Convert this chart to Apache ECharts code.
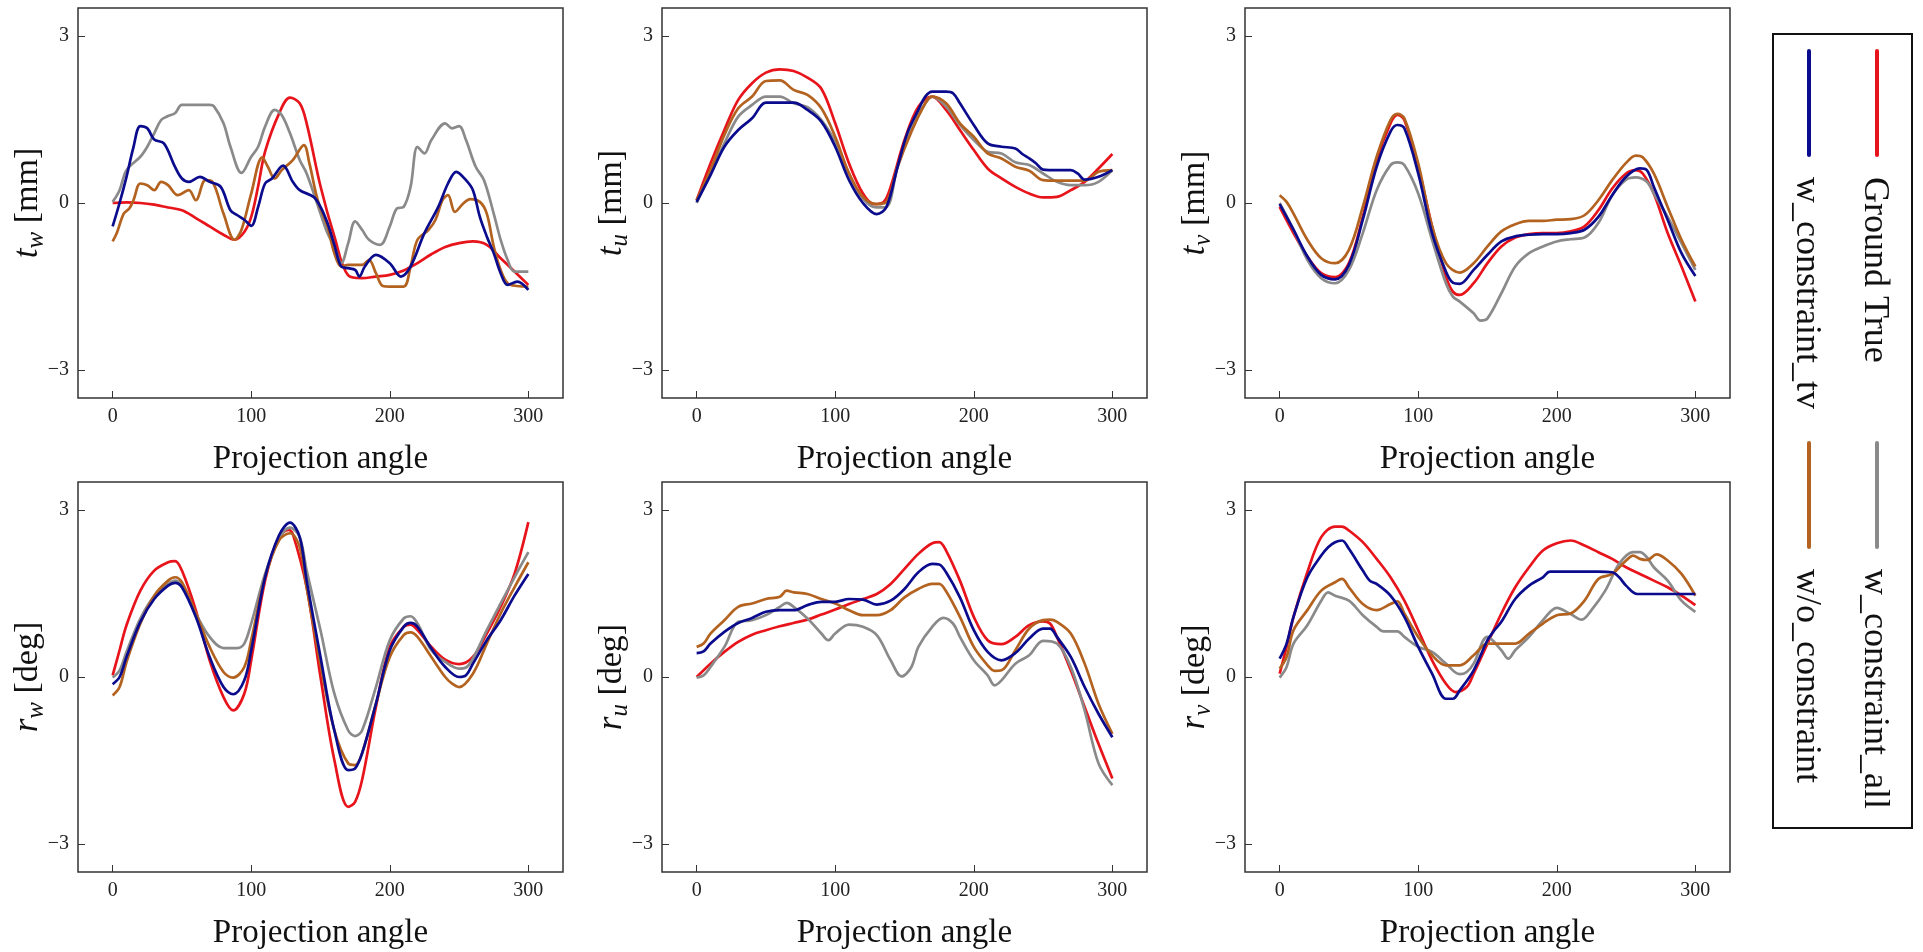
<!DOCTYPE html>
<html>
<head>
<meta charset="utf-8">
<script src="https://cdn.jsdelivr.net/npm/echarts@6/dist/echarts.min.js"></script>
<style>
html, body { margin: 0; padding: 0; background: #fff; }
#main { width: 1923px; height: 952px; }
</style>
</head>
<body>
<div id="main"></div>
<script type="text/javascript">
// tick labels
var xTicks = [0, 100, 200, 300];
var yTicks = [-3, 0, 3];

// legend names
var names = ['Ground True', 'w_constraint_tv', 'w_constraint_all', 'w/o_constraint'];

// panel t_w : [angle, value]
var tw_gt = [[0,0],[10,0.01],[20,0],[30,-0.03],[40,-0.08],[50,-0.13],[60,-0.27],[70,-0.42],[80,-0.57],[88,-0.66],[95,-0.52],[100,-0.25],[105,0.3],[110,0.92],[120,1.6],[128,1.89],[135,1.79],[140,1.43],[150,0.3],[160,-0.6],[170,-1.3],[180,-1.35],[190,-1.32],[200,-1.29],[210,-1.21],[220,-1.08],[230,-0.92],[240,-0.79],[250,-0.72],[260,-0.69],[270,-0.75],[280,-0.99],[290,-1.23],[300,-1.47]];
var tw_tv = [[0,-0.42],[5,0],[10,0.47],[15,1.0],[20,1.38],[25,1.34],[30,1.14],[37,1.07],[45,0.65],[50,0.44],[55,0.38],[63,0.47],[70,0.38],[78,0.29],[85,-0.13],[90,-0.22],[95,-0.3],[100,-0.41],[105,-0.07],[110,0.35],[115,0.44],[123,0.67],[130,0.38],[135,0.23],[145,0.11],[150,-0.07],[155,-0.36],[160,-0.75],[165,-1.14],[170,-1.17],[175,-1.2],[178,-1.32],[182,-1.14],[190,-0.93],[200,-1.08],[208,-1.32],[215,-1.14],[225,-0.54],[235,-0.07],[242,0.35],[248,0.56],[255,0.41],[260,0.23],[265,-0.25],[270,-0.6],[275,-0.9],[280,-1.26],[285,-1.47],[292,-1.41],[300,-1.56]];
var tw_all = [[0,0.02],[5,0.23],[10,0.59],[20,0.83],[25,1.01],[30,1.25],[35,1.49],[40,1.56],[45,1.61],[50,1.76],[60,1.76],[70,1.76],[73,1.74],[80,1.43],[85,1.01],[93,0.54],[100,0.83],[105,1.01],[110,1.37],[117,1.67],[122,1.58],[128,1.25],[135,0.77],[140,0.53],[150,-0.19],[155,-0.54],[160,-0.78],[165,-1.08],[170,-0.72],[175,-0.33],[180,-0.48],[185,-0.66],[193,-0.75],[200,-0.42],[205,-0.1],[210,-0.07],[215,0.29],[220,1.01],[225,0.89],[230,1.13],[240,1.43],[245,1.34],[250,1.38],[255,1.13],[262,0.65],[268,0.41],[275,-0.19],[280,-0.66],[285,-1.02],[290,-1.23],[300,-1.23]];
var tw_wo = [[0,-0.69],[3,-0.54],[8,-0.19],[12,-0.1],[15,0.05],[20,0.35],[25,0.32],[30,0.23],[35,0.38],[40,0.32],[47,0.14],[55,0.23],[60,0.05],[67,0.41],[72,0.38],[80,-0.19],[88,-0.66],[93,-0.48],[100,0.17],[108,0.82],[112,0.65],[117,0.44],[122,0.59],[130,0.77],[138,1.04],[142,0.71],[148,0.05],[155,-0.42],[160,-0.9],[165,-1.14],[170,-1.11],[180,-1.11],[185,-1.02],[190,-1.26],[195,-1.49],[200,-1.5],[210,-1.5],[215,-1.14],[220,-0.66],[228,-0.48],[233,-0.3],[238,0.05],[242,0.14],[247,-0.16],[253,-0.01],[258,0.07],[265,0.02],[270,-0.19],[275,-0.78],[280,-1.2],[285,-1.44],[292,-1.49],[300,-1.5]];

// panel t_u
var tu_gt = [[0,0.05],[10,0.71],[20,1.31],[30,1.85],[40,2.15],[50,2.34],[60,2.4],[70,2.37],[80,2.25],[90,2.05],[100,1.43],[110,0.71],[120,0.17],[128,-0.02],[135,0.02],[140,0.29],[150,1.13],[160,1.73],[170,1.91],[180,1.67],[190,1.31],[200,0.95],[210,0.62],[220,0.44],[230,0.29],[240,0.17],[250,0.1],[260,0.11],[270,0.23],[280,0.38],[290,0.62],[300,0.88]];
var tu_tv = [[0,0.02],[10,0.5],[20,1.01],[30,1.31],[40,1.52],[50,1.8],[60,1.8],[70,1.8],[80,1.67],[90,1.46],[100,1.01],[110,0.41],[120,0],[130,-0.2],[137,-0.07],[145,0.65],[152,1.25],[160,1.67],[165,1.91],[170,2.0],[180,2.0],[185,1.97],[190,1.79],[200,1.4],[210,1.07],[220,1.01],[230,0.98],[235,0.88],[240,0.8],[245,0.71],[250,0.6],[260,0.59],[270,0.59],[275,0.53],[280,0.42],[290,0.47],[300,0.59]];
var tu_all = [[0,0],[10,0.53],[20,1.07],[30,1.55],[40,1.76],[50,1.91],[60,1.91],[70,1.79],[80,1.72],[90,1.49],[100,1.1],[110,0.53],[120,0.08],[130,-0.08],[137,-0.07],[145,0.65],[155,1.31],[165,1.79],[170,1.91],[180,1.73],[190,1.4],[200,1.13],[210,0.92],[220,0.89],[230,0.73],[240,0.68],[250,0.53],[260,0.38],[270,0.32],[280,0.32],[290,0.38],[300,0.59]];
var tu_wo = [[0,0.05],[10,0.59],[20,1.22],[30,1.7],[40,1.91],[50,2.19],[60,2.2],[70,2.03],[80,1.94],[90,1.7],[100,1.19],[110,0.53],[120,0.11],[130,-0.02],[137,0.02],[145,0.65],[155,1.28],[165,1.79],[170,1.91],[180,1.79],[190,1.43],[200,1.19],[210,0.89],[220,0.8],[230,0.65],[240,0.58],[250,0.41],[260,0.4],[270,0.4],[280,0.4],[290,0.56],[300,0.59]];

// panel t_v
var tv_gt = [[0,-0.07],[10,-0.54],[20,-0.96],[30,-1.26],[40,-1.33],[50,-1.08],[60,-0.25],[70,0.77],[80,1.43],[85,1.58],[90,1.49],[100,0.65],[110,-0.42],[120,-1.32],[125,-1.59],[130,-1.65],[140,-1.44],[150,-1.08],[160,-0.78],[170,-0.62],[180,-0.56],[190,-0.54],[200,-0.54],[210,-0.51],[220,-0.42],[230,-0.13],[240,0.26],[250,0.53],[257,0.59],[262,0.53],[270,0.17],[280,-0.54],[290,-1.14],[300,-1.77]];
var tv_tv = [[0,-0.02],[10,-0.48],[20,-0.96],[30,-1.29],[40,-1.37],[50,-1.11],[60,-0.3],[70,0.65],[80,1.28],[85,1.4],[90,1.34],[100,0.53],[110,-0.54],[120,-1.23],[125,-1.43],[130,-1.45],[140,-1.2],[150,-0.93],[160,-0.69],[170,-0.6],[180,-0.57],[190,-0.56],[200,-0.56],[210,-0.54],[220,-0.48],[230,-0.25],[240,0.14],[250,0.47],[260,0.62],[265,0.59],[270,0.29],[280,-0.3],[290,-0.9],[300,-1.31]];
var tv_all = [[0,0],[10,-0.48],[20,-1.02],[30,-1.35],[40,-1.44],[50,-1.2],[60,-0.54],[70,0.23],[80,0.68],[85,0.73],[90,0.68],[100,0.17],[110,-0.66],[120,-1.44],[125,-1.68],[130,-1.77],[140,-1.98],[145,-2.11],[150,-2.07],[160,-1.62],[170,-1.14],[180,-0.9],[190,-0.78],[200,-0.69],[210,-0.65],[220,-0.62],[230,-0.36],[240,0.14],[250,0.42],[257,0.46],[265,0.38],[270,0.17],[280,-0.25],[290,-0.72],[300,-1.2]];
var tv_wo = [[0,0.14],[5,0.02],[10,-0.19],[20,-0.66],[30,-0.99],[40,-1.08],[50,-0.84],[60,-0.07],[70,0.83],[80,1.49],[85,1.6],[90,1.52],[100,0.71],[110,-0.42],[120,-1.08],[130,-1.25],[140,-1.08],[150,-0.78],[160,-0.51],[170,-0.38],[180,-0.32],[190,-0.32],[200,-0.3],[210,-0.29],[220,-0.22],[230,0.05],[240,0.41],[250,0.72],[257,0.85],[262,0.82],[270,0.53],[280,-0.07],[290,-0.66],[300,-1.14]];

// panel r_w
var rw_gt = [[0,0.03],[5,0.48],[10,0.93],[20,1.55],[30,1.91],[40,2.06],[45,2.08],[50,1.91],[60,1.2],[70,0.3],[80,-0.36],[87,-0.6],[95,-0.3],[100,0.3],[110,1.73],[120,2.51],[127,2.64],[130,2.57],[140,1.61],[150,0],[160,-1.49],[170,-2.33],[175,-2.24],[180,-1.85],[190,-0.54],[200,0.54],[210,0.9],[215,0.94],[220,0.84],[230,0.54],[240,0.31],[250,0.23],[260,0.36],[270,0.78],[280,1.26],[290,1.85],[300,2.78]];
var rw_tv = [[0,-0.13],[5,0],[10,0.36],[20,0.99],[30,1.4],[40,1.64],[45,1.69],[50,1.61],[60,1.08],[70,0.36],[80,-0.18],[87,-0.31],[95,-0.06],[100,0.48],[110,1.79],[120,2.54],[128,2.77],[135,2.51],[140,1.73],[150,0.36],[160,-0.96],[170,-1.67],[175,-1.64],[180,-1.37],[190,-0.48],[200,0.48],[210,0.9],[215,0.97],[220,0.9],[230,0.51],[240,0.18],[250,0],[255,0.03],[260,0.24],[270,0.66],[280,1.02],[290,1.46],[300,1.85]];
var rw_all = [[0,-0.01],[5,0.12],[10,0.45],[20,1.05],[30,1.45],[40,1.67],[45,1.73],[50,1.64],[60,1.14],[70,0.72],[80,0.52],[90,0.52],[95,0.6],[100,0.96],[110,1.85],[120,2.48],[128,2.68],[135,2.51],[140,1.91],[150,0.84],[160,-0.3],[170,-0.96],[175,-1.06],[180,-0.96],[190,-0.18],[200,0.66],[210,1.05],[215,1.09],[220,0.96],[230,0.48],[240,0.27],[250,0.15],[255,0.17],[260,0.33],[270,0.84],[280,1.32],[290,1.79],[300,2.24]];
var rw_wo = [[0,-0.33],[5,-0.18],[10,0.27],[20,0.96],[30,1.46],[40,1.73],[45,1.79],[50,1.7],[60,1.14],[70,0.54],[80,0.09],[87,-0.01],[95,0.18],[100,0.66],[110,1.79],[120,2.45],[128,2.58],[135,2.33],[140,1.61],[150,0.24],[160,-0.96],[170,-1.55],[175,-1.58],[180,-1.37],[190,-0.48],[200,0.36],[210,0.75],[215,0.8],[220,0.72],[230,0.36],[240,0],[245,-0.12],[250,-0.18],[260,0.06],[270,0.6],[280,1.14],[290,1.61],[300,2.06]];

// panel r_u
var ru_gt = [[0,0],[10,0.24],[20,0.45],[30,0.63],[40,0.76],[50,0.84],[60,0.91],[70,0.97],[80,1.03],[90,1.12],[100,1.21],[110,1.31],[120,1.4],[130,1.49],[140,1.67],[150,1.94],[160,2.21],[170,2.4],[175,2.42],[180,2.27],[190,1.73],[200,1.08],[210,0.66],[220,0.59],[230,0.72],[240,0.93],[250,1.0],[255,0.96],[260,0.72],[270,0.12],[280,-0.54],[290,-1.2],[300,-1.82]];
var ru_tv = [[0,0.43],[5,0.46],[10,0.6],[20,0.81],[30,0.97],[40,1.06],[50,1.17],[60,1.2],[70,1.2],[80,1.29],[90,1.35],[100,1.35],[110,1.4],[120,1.39],[130,1.3],[140,1.37],[150,1.58],[160,1.88],[170,2.03],[175,2.02],[180,1.88],[190,1.43],[200,0.84],[210,0.45],[220,0.3],[230,0.43],[240,0.69],[250,0.87],[255,0.87],[260,0.72],[270,0.36],[280,-0.18],[290,-0.66],[300,-1.08]];
var ru_all = [[0,-0.01],[5,0.03],[10,0.18],[20,0.54],[30,0.99],[40,1.02],[50,1.11],[60,1.26],[65,1.33],[70,1.26],[80,1.05],[90,0.78],[95,0.66],[100,0.78],[110,0.94],[120,0.9],[130,0.75],[140,0.3],[148,0.01],[155,0.18],[160,0.54],[170,0.9],[178,1.06],[185,0.96],[190,0.72],[200,0.3],[210,0.03],[215,-0.15],[220,-0.06],[230,0.24],[240,0.39],[250,0.65],[260,0.6],[270,0.18],[280,-0.6],[290,-1.55],[300,-1.94]];
var ru_wo = [[0,0.54],[5,0.6],[10,0.78],[20,1.02],[30,1.26],[40,1.32],[50,1.4],[60,1.44],[65,1.55],[70,1.52],[80,1.49],[90,1.4],[100,1.32],[110,1.2],[120,1.11],[130,1.11],[140,1.2],[150,1.43],[160,1.58],[170,1.67],[175,1.67],[180,1.54],[190,1.08],[200,0.54],[210,0.21],[215,0.11],[220,0.12],[230,0.48],[240,0.87],[250,1.02],[255,1.03],[260,0.99],[270,0.78],[280,0.24],[290,-0.48],[300,-1.02]];

// panel r_v
var rv_gt = [[0,0.06],[5,0.54],[10,1.08],[20,1.88],[30,2.51],[40,2.7],[45,2.7],[50,2.63],[60,2.42],[70,2.12],[80,1.79],[90,1.37],[100,0.84],[110,0.3],[120,-0.12],[127,-0.27],[135,-0.18],[140,0.06],[150,0.6],[160,1.14],[170,1.61],[180,1.97],[190,2.27],[200,2.4],[210,2.45],[220,2.36],[230,2.24],[240,2.12],[250,1.97],[260,1.85],[270,1.73],[280,1.61],[290,1.46],[300,1.29]];
var rv_tv = [[0,0.33],[5,0.6],[10,1.08],[20,1.79],[30,2.18],[35,2.33],[40,2.42],[45,2.45],[50,2.3],[60,1.91],[65,1.73],[70,1.67],[80,1.46],[90,1.08],[100,0.54],[110,0.06],[120,-0.39],[125,-0.39],[130,-0.24],[140,0.12],[150,0.66],[155,0.84],[160,0.99],[170,1.4],[180,1.64],[190,1.79],[195,1.89],[210,1.89],[230,1.89],[240,1.88],[245,1.79],[250,1.64],[258,1.49],[270,1.49],[285,1.49],[300,1.49]];
var rv_all = [[0,-0.01],[5,0.18],[10,0.6],[20,0.93],[30,1.37],[35,1.52],[40,1.46],[50,1.37],[60,1.11],[70,0.9],[75,0.82],[85,0.82],[90,0.72],[100,0.54],[110,0.45],[120,0.24],[130,0.05],[135,0.09],[140,0.24],[150,0.72],[160,0.48],[165,0.33],[170,0.48],[180,0.72],[190,1.02],[200,1.24],[210,1.13],[218,1.03],[225,1.2],[235,1.55],[245,2.03],[255,2.24],[260,2.24],[265,2.15],[270,1.97],[280,1.73],[290,1.37],[300,1.17]];
var rv_wo = [[0,0.15],[5,0.36],[10,0.84],[20,1.2],[30,1.55],[40,1.7],[45,1.76],[50,1.61],[60,1.31],[70,1.2],[80,1.31],[85,1.36],[90,1.14],[100,0.72],[110,0.39],[120,0.21],[130,0.21],[140,0.39],[150,0.6],[160,0.6],[170,0.6],[180,0.78],[190,0.96],[200,1.11],[210,1.14],[220,1.37],[230,1.76],[240,1.85],[250,2.09],[255,2.18],[260,2.12],[265,2.1],[272,2.2],[280,2.09],[290,1.85],[300,1.46]];

var colors = ['#e8141b', '#0b0b8e', '#8a8a8a', '#b3621f'];
var font = 'Liberation Serif';

var panels = [
    { sym: 'tw', sub: 'w', unit: 'mm', data: [tw_gt, tw_tv, tw_all, tw_wo] },
    { sym: 'tu', sub: 'u', unit: 'mm', data: [tu_gt, tu_tv, tu_all, tu_wo] },
    { sym: 'tv', sub: 'v', unit: 'mm', data: [tv_gt, tv_tv, tv_all, tv_wo] },
    { sym: 'rw', sub: 'w', unit: 'deg', data: [rw_gt, rw_tv, rw_all, rw_wo] },
    { sym: 'ru', sub: 'u', unit: 'deg', data: [ru_gt, ru_tv, ru_all, ru_wo] },
    { sym: 'rv', sub: 'v', unit: 'deg', data: [rv_gt, rv_tv, rv_all, rv_wo] }
];

var lefts = [78, 662, 1245];
var tops = [8, 482];

var grids = [], xAxes = [], yAxes = [], series = [];

panels.forEach(function (p, i) {
    var col = i % 3, row = Math.floor(i / 3);
    grids.push({
        left: lefts[col], top: tops[row], width: 485, height: 390,
        show: true, borderColor: '#333', borderWidth: 1.5,
        backgroundColor: 'transparent', outerBoundsMode: 'none'
    });
    xAxes.push({
        type: 'value', gridIndex: i, min: -25, max: 325,
        splitLine: { show: false },
        axisLine: { show: false, onZero: false },
        axisTick: { inside: true, length: 7, lineStyle: { color: '#333' }, customValues: xTicks },
        axisLabel: { customValues: xTicks, fontFamily: font, fontSize: 20, color: '#222', margin: 9 },
        name: 'Projection angle', nameLocation: 'middle', nameGap: 45, nameMoveOverlap: false,
        nameTextStyle: { fontFamily: font, fontSize: 33, color: '#111' }
    });
    yAxes.push({
        type: 'value', gridIndex: i, min: -3.5, max: 3.5,
        splitLine: { show: false },
        axisLine: { show: false, onZero: false },
        axisTick: { inside: true, length: 7, lineStyle: { color: '#333' }, customValues: yTicks },
        axisLabel: {
            customValues: yTicks, fontFamily: font, fontSize: 20, color: '#222', margin: 9,
            formatter: function (v) { return v < 0 ? '\u2212' + Math.abs(v) : String(v); }
        },
        name: '{i|' + p.sym.charAt(0) + '}{s|' + p.sub + '}{n| [' + p.unit + ']}',
        nameLocation: 'middle', nameGap: 33, nameMoveOverlap: false,
        nameTextStyle: {
            fontFamily: font, fontSize: 34, color: '#111',
            rich: {
                i: { fontFamily: font, fontSize: 35, fontStyle: 'italic', color: '#111', lineHeight: 40, verticalAlign: 'bottom' },
                s: { fontFamily: font, fontSize: 25, fontStyle: 'italic', color: '#111', lineHeight: 24, verticalAlign: 'bottom', padding: [0, 0, -4, 0] },
                n: { fontFamily: font, fontSize: 34, color: '#111', lineHeight: 40, verticalAlign: 'bottom' }
            }
        }
    });
    p.data.forEach(function (d, k) {
        series.push({
            name: names[k], type: 'line', xAxisIndex: i, yAxisIndex: i,
            data: d, smooth: 0.35, showSymbol: false, symbol: 'none',
            lineStyle: { color: colors[k], width: 2.7 },
            z: k === 0 ? 2 : (k === 1 ? 5 : (k === 2 ? 3 : 4)),
            animation: false
        });
    });
});

// rotated legend, drawn as graphic
var legendGraphic = [
    { type: 'rect', shape: { x: 1773, y: 34, width: 139, height: 794 }, style: { fill: 'none', stroke: '#111', lineWidth: 2 } }
];
var legendPos = [
    { x: 1877, y: 51 },   // Ground True
    { x: 1809, y: 51 },   // w_constraint_tv
    { x: 1877, y: 443 },  // w_constraint_all
    { x: 1809, y: 443 }   // w/o_constraint
];
legendPos.forEach(function (pos, k) {
    legendGraphic.push({
        type: 'line', shape: { x1: pos.x, y1: pos.y, x2: pos.x, y2: pos.y + 104 },
        style: { stroke: colors[k], lineWidth: 4, lineCap: 'round' }
    });
    legendGraphic.push({
        type: 'text', x: pos.x - 3, y: pos.y + 126, rotation: -Math.PI / 2,
        style: { text: names[k], font: '36px "Liberation Serif"', fill: '#111', textAlign: 'left', textVerticalAlign: 'middle' }
    });
});

var myChart = echarts.init(document.getElementById('main'), null, { renderer: 'canvas' });
myChart.setOption({
    backgroundColor: '#fff',
    animation: false,
    grid: grids,
    xAxis: xAxes,
    yAxis: yAxes,
    series: series,
    graphic: legendGraphic
});
</script>
</body>
</html>
